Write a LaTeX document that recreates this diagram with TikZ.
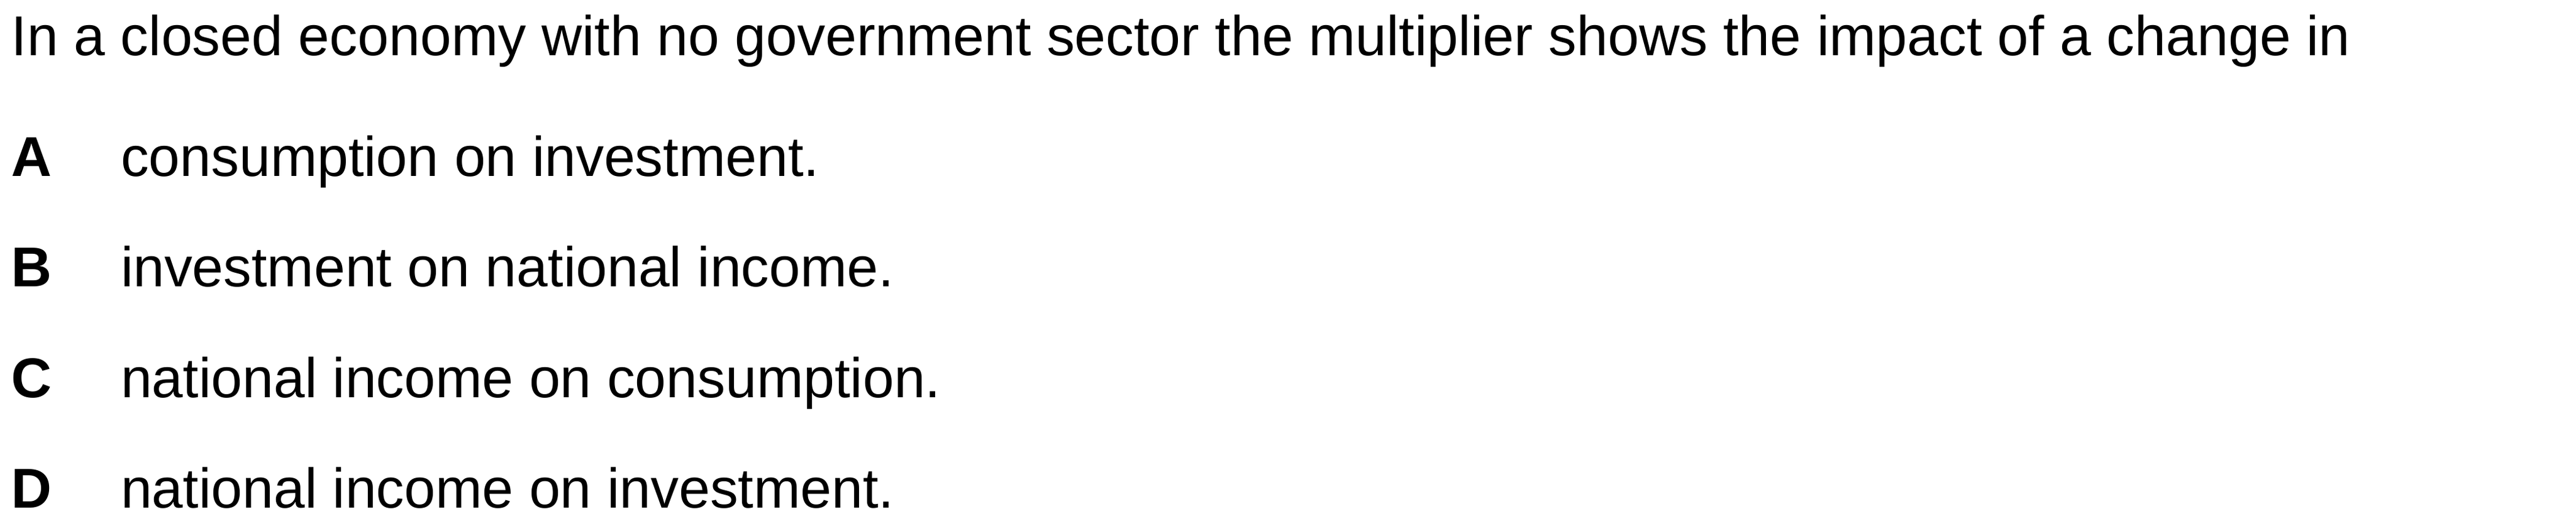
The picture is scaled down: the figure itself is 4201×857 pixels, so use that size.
\documentclass[tikz,border=0pt]{standalone}
\usepackage{fontspec}
\setmainfont{Liberation Sans}

\begin{document}
\begin{tikzpicture}[x=0.1pt, y=-0.1pt,
	every node/.style={inner sep=0pt, anchor=base west, font=\fontsize{9.15pt}{11pt}\selectfont},
	letter/.style={font=\fontsize{9.15pt}{11pt}\selectfont\bfseries}]
	\useasboundingbox (0,0) rectangle (4201,857);
	\node (stem) at (17,90) {In a closed economy with no government sector the multiplier shows the impact of a change in};
	
	\node[letter] (a) at (17,287) {A};
	\node (ansa) at (195,287) {consumption on investment.};
	\node[letter] (b) at (17,467) {B};
	\node (ansb) at (195,467) {investment on national income.};
	\node[letter] (c) at (17,648) {C};
	\node (ansc) at (195,648) {national income on consumption.};
	\node[letter] (d) at (17,828) {D};
	\node (ansd) at (195,828) {national income on investment.};
\end{tikzpicture}
\end{document}
